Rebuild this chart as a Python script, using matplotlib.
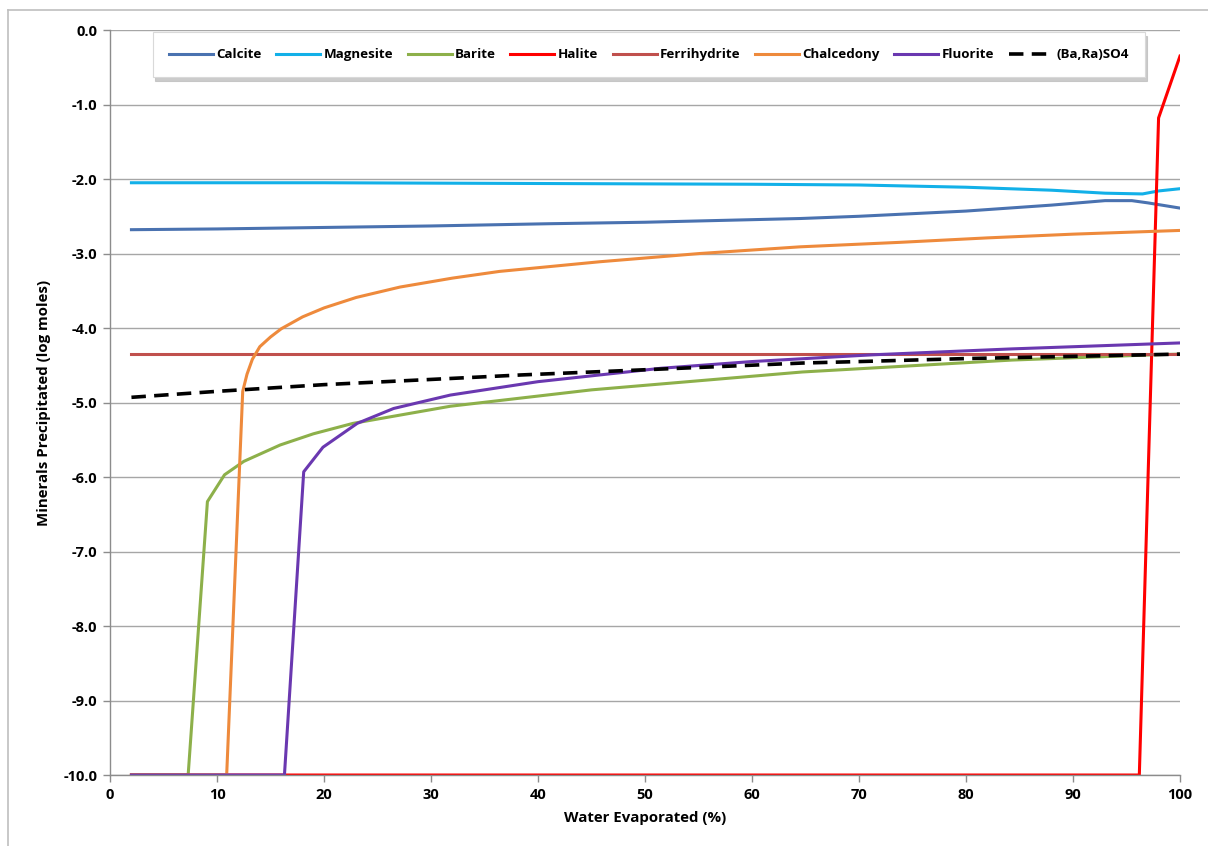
import matplotlib
matplotlib.use("Agg")
from matplotlib import pyplot as plt
from matplotlib.lines import Line2D

plt.rcParams['font.family'] = ['Open Sans', 'DejaVu Sans']
plt.rcParams['axes.unicode_minus'] = False

# 各矿物沉淀量 (log moles) 随蒸发水量 (%) 的变化
calcite_x = [2, 10, 20, 30, 41, 50, 64.5, 70, 80, 88, 93, 95.5, 97, 100]
calcite_y = [-2.68, -2.67, -2.65, -2.63, -2.60, -2.58, -2.53, -2.50, -2.43, -2.35, -2.29, -2.29, -2.32, -2.39]

magnesite_x = [2, 20, 40, 60, 70, 80, 88, 93, 96.5, 98, 100]
magnesite_y = [-2.05, -2.05, -2.06, -2.07, -2.08, -2.11, -2.15, -2.19, -2.20, -2.16, -2.13]

barite_x = [2, 7.3, 9.1, 10.7, 12.5, 15.9, 19, 22.7, 31.8, 45, 64.7, 84.3, 97.4, 100]
barite_y = [-10, -10, -6.33, -5.97, -5.79, -5.57, -5.42, -5.28, -5.05, -4.83, -4.59, -4.43, -4.36, -4.35]

halite_x = [2, 96.2, 98.0, 100]
halite_y = [-10, -10, -1.18, -0.35]

ferrihydrite_x = [2, 100]
ferrihydrite_y = [-4.35, -4.35]

chalcedony_x = [2, 10.9, 12.4, 12.8, 13.3, 14.0, 15.0, 16.0, 18.0, 20.0, 23.0, 27.1, 32.0, 36.4, 45.8,
                55.1, 64.5, 73.8, 82.0, 90.0, 100]
chalcedony_y = [-10, -10, -4.85, -4.62, -4.42, -4.25, -4.12, -4.01, -3.85, -3.73, -3.59, -3.45, -3.33,
                -3.24, -3.11, -3.00, -2.91, -2.85, -2.79, -2.74, -2.69]

fluorite_x = [2, 16.3, 18.1, 19.9, 23.1, 26.5, 31.8, 40, 51.5, 60, 71.2, 84.3, 100]
fluorite_y = [-10, -10, -5.93, -5.60, -5.28, -5.08, -4.90, -4.72, -4.54, -4.45, -4.36, -4.28, -4.20]

bara_x = [2, 10, 20, 30, 38.4, 50, 64.7, 70, 80, 90, 100]
bara_y = [-4.93, -4.85, -4.76, -4.69, -4.63, -4.56, -4.47, -4.45, -4.41, -4.38, -4.35]

fig = plt.figure(figsize=(12.08, 8.46), dpi=100)
ax = fig.add_axes([0.0911, 0.0839, 0.8857, 0.8806])

lw = 2.2
ax.plot(calcite_x, calcite_y, color='#4A72B0', lw=lw, label='Calcite')
ax.plot(magnesite_x, magnesite_y, color='#12B0E8', lw=lw, label='Magnesite')
ax.plot(barite_x, barite_y, color='#8DB04A', lw=lw, label='Barite')
ax.plot(halite_x, halite_y, color='#FF0000', lw=lw, label='Halite')
ax.plot(ferrihydrite_x, ferrihydrite_y, color='#C0504D', lw=lw, label='Ferrihydrite')
ax.plot(chalcedony_x, chalcedony_y, color='#EE8A3C', lw=lw, label='Chalcedony')
ax.plot(fluorite_x, fluorite_y, color='#6A38B0', lw=lw, label='Fluorite')
ax.plot(bara_x, bara_y, color='black', lw=2.6, dashes=(4, 2.3), label='(Ba,Ra)SO4')

ax.set_xlim(0, 100)
ax.set_ylim(-10, 0)
ax.set_xticks(range(0, 101, 10))
ax.set_yticks(range(-10, 1))
ax.set_yticklabels(['{:.1f}'.format(v) for v in range(-10, 1)])
ax.grid(axis='y', color='#A6A6A6', lw=1.0)
ax.set_axisbelow(True)

for s in ['top', 'right']:
    ax.spines[s].set_visible(False)
for s in ['left', 'bottom']:
    ax.spines[s].set_color('#8C8C8C')
    ax.spines[s].set_linewidth(1.0)
ax.tick_params(axis='both', direction='out', length=5, width=1, color='#8C8C8C',
               labelsize=10.5, pad=4)
for t in ax.get_xticklabels() + ax.get_yticklabels():
    t.set_fontweight('bold')

ax.set_xlabel('Water Evaporated (%)', fontsize=10.8, fontweight='bold', labelpad=7)
ax.set_ylabel('Minerals Precipitated (log moles)', fontsize=10.8, fontweight='bold', labelpad=9)

leg = ax.legend(loc='upper left', bbox_to_anchor=(0.04, 0.936, 0.927, 0.061), mode='expand',
                ncol=8, frameon=True, fancybox=False, handlelength=3.3, handletextpad=0.25,
                columnspacing=0.4, borderaxespad=0, borderpad=1.2,
                prop={'weight': 'bold', 'size': 9.6},
                shadow={'ox': 1.5, 'oy': -3, 'color': '#BFBFBF', 'alpha': 0.8})
leg.get_frame().set_edgecolor('#D9D9D9')
leg.get_frame().set_linewidth(0.8)

# 外框 (左、上)
fig.add_artist(Line2D([0.0066, 0.0066], [0, 0.988], color='#BFBFBF', lw=1.2, transform=fig.transFigure))
fig.add_artist(Line2D([0.0066, 1], [0.988, 0.988], color='#BFBFBF', lw=1.2, transform=fig.transFigure))

plt.savefig('out.png', dpi=100)
